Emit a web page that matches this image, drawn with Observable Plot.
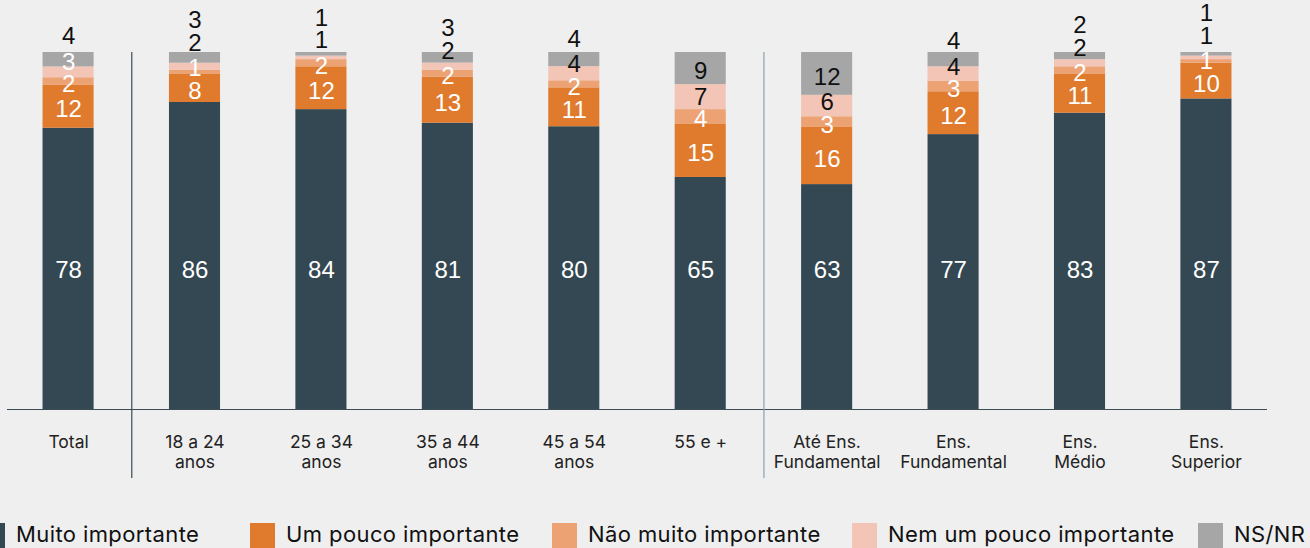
<!DOCTYPE html>
<html><head><meta charset="utf-8">
<script src="https://cdn.jsdelivr.net/npm/d3@7"></script>
<script src="https://cdn.jsdelivr.net/npm/@observablehq/plot@0.6"></script>
<style>
html,body{margin:0;padding:0;background:#efefef;overflow:hidden;}
#chart{position:relative;width:1310px;height:548px;overflow:hidden;}
#legend{position:absolute;left:0;top:519px;width:1310px;height:40px;font-family:Inter,"Open Sans",sans-serif;font-size:22px;letter-spacing:0.4px;color:#111;}
.item{position:absolute;top:0;display:flex;align-items:flex-start;white-space:nowrap;}
.sw{width:25px;height:30px;margin-top:4px;margin-right:11px;box-sizing:border-box;}
.lbl{line-height:30px;}
</style></head><body><div id="chart"></div>
<script>
// ---- data ----
const categories = ["Total","18 a 24\nanos","25 a 34\nanos","35 a 44\nanos","45 a 54\nanos","55 e +","Até Ens.\nFundamental","Ens.\nFundamental","Ens.\nMédio","Ens.\nSuperior"];
const series = ["Muito importante","Um pouco importante","Não muito importante","Nem um pouco importante","NS/NR"];
const muitoImportante   = [78, 86, 84, 81, 80, 65, 63, 77, 83, 87];
const umPoucoImportante = [12,  8, 12, 13, 11, 15, 16, 12, 11, 10];
const naoMuitoImportante= [ 2,  1,  2,  2,  2,  4,  3,  3,  2,  1];
const nemUmPouco        = [ 3,  2,  1,  2,  4,  7,  6,  4,  2,  1];
const nsnr              = [ 4,  3,  1,  3,  4,  9, 12,  4,  2,  1];
const separatorsAfter = ["Total", "55 e +"];

// ---- style / layout ----
const colors = ["#334852", "#e07a2c", "#eca273", "#f3c5b6", "#a6a6a6"];
const sepColors = ["#3b4a52", "#8aa2ad"];
const W = 1310, H = 490, MT = 52, MB = H - 409, ML = 7, MR = 43;
const legendX = [-20, 250, 552, 852, 1198];
const firstLabelLevel = 0.39;   // labels of the bottom series sit on a common level
const gapPx = 22.5, innerShiftPx = 3;

const seriesValues = [muitoImportante, umPoucoImportante, naoMuitoImportante, nemUmPouco, nsnr];
const rows = [];
categories.forEach((c, i) => seriesValues.forEach((s, j) => rows.push({cat: c, series: series[j], value: s[i]})));

// label layout: bottom-up, keep a minimum gap between labels
const innerH = H - MT - MB;
const gap = gapPx / innerH, shift = innerShiftPx / innerH;
const labels = [];
categories.forEach((c, i) => {
  const vals = seriesValues.map(s => s[i]);
  const tot = d3.sum(vals);
  let cum = 0, prev = -Infinity;
  vals.forEach((v, j) => {
    const lo = cum / tot, hi = (cum + v) / tot; cum += v;
    let y = j === 0 ? firstLabelLevel : Math.max((lo + hi) / 2, prev + gap);
    prev = y;
    const outside = y > 1;
    if (!outside && j > 0) y -= shift;
    labels.push({cat: c, y, text: String(v), fill: (outside || (j >= 3 && v >= 4)) ? "#111" : "#fff"});
  });
});

const xOpts = {domain: categories, paddingInner: 0.596, paddingOuter: 0.281, round: false, axis: null};
const base = {width: W, height: H, marginTop: MT, marginBottom: MB, marginLeft: ML, marginRight: MR,
  style: {background: "transparent", overflow: "visible"}};

const barMark = Plot.barY(rows, {x: "cat", y: "value", fill: "series", offset: "normalize"});
const probe = Plot.plot({...base, x: xOpts, y: {domain: [0, 1], axis: null},
  color: {domain: series, range: colors}, marks: [barMark]});
const step = probe.scale("x").step;

const plot = Plot.plot({
  ...base,
  x: xOpts,
  y: {domain: [0, 1], axis: null},
  color: {domain: series, range: colors},
  marks: [
    barMark,
    Plot.ruleY([0], {stroke: "#3d4d55", strokeWidth: 1.2}),
    Plot.ruleX(separatorsAfter, {x: d => d, dx: step / 2, stroke: (d, i) => sepColors[i], strokeWidth: 1.2, insetBottom: -(478 - 409)}),
    Plot.text(labels, {x: "cat", y: "y", text: "text", fill: "fill", fontSize: 24, fontFamily: "Liberation Sans, Arial, sans-serif"}),
    Plot.axisX({tickSize: 0, tickPadding: 24, fontSize: 17.5, fontFamily: "Inter, sans-serif", lineHeight: 1.14, fill: "#222", label: null})
  ]
});
document.getElementById("chart").appendChild(plot);

// legend from the plot's color scale
const cs = plot.scale("color");
const legend = d3.select("#chart").append("div").attr("id", "legend");
cs.domain.forEach((name, i) => {
  const it = legend.append("div").attr("class", "item").style("left", legendX[i] + "px");
  it.append("div").attr("class", "sw").style("background", cs.range[i]);
  it.append("div").attr("class", "lbl").text(name);
});
</script></body></html>
